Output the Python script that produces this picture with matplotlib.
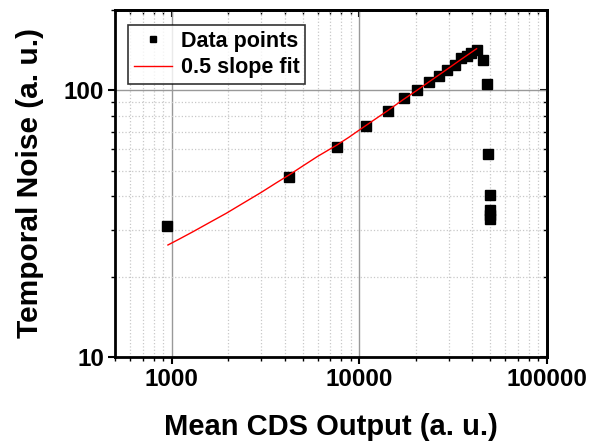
import matplotlib
matplotlib.use("Agg")
import matplotlib.pyplot as plt
from matplotlib.ticker import LogLocator, NullFormatter, FixedLocator, FixedFormatter

plt.rcParams['font.family'] = ['Liberation Sans', 'DejaVu Sans']
plt.rcParams['font.weight'] = 'bold'

# Data points (Mean CDS Output, Temporal Noise)
mean_output = [949, 4240, 7600, 10890, 14160, 17260, 20300, 23500, 26500, 29400,
               32200, 35000, 37300, 39500, 42200, 45600, 47700, 48500, 49500,
               49500, 49500, 49500]
temporal_noise = [31.1, 47.4, 61.3, 73.2, 83.4, 93.5, 100.0, 107.2, 113.2, 119.2,
                  124.2, 131.5, 134.5, 137.7, 141.0, 129.4, 105.6, 57.9, 40.4,
                  35.7, 34.2, 32.9]

# 0.5 slope fit curve
fit_x = [955, 1100, 1300, 1550, 1958, 2400, 3000, 3600, 4240, 5000, 6000, 7600,
         8800, 10000, 12000, 14160, 17000, 20300, 24000, 28250, 35000, 42200]
fit_y = [26.3, 27.7, 29.5, 31.6, 34.6, 37.7, 41.4, 44.9, 48.2, 52.0, 56.5, 62.3,
         66.6, 70.9, 77.4, 83.8, 91.8, 99.9, 108.5, 117.5, 130.6, 143.0]

x_ticks = [1000, 10000, 100000]
x_labels = ["1000", "10000", "100000"]
y_ticks = [10, 100]
y_labels = ["10", "100"]

fig = plt.figure(figsize=(5.97, 4.48), dpi=100)
ax = fig.add_axes([0.193, 0.203, 0.723, 0.775])

ax.set_xscale('log')
ax.set_yscale('log')
ax.set_xlim(500, 100000)
ax.set_ylim(10, 200)

# grids
ax.grid(True, which='major', color='#999999', linestyle='-', linewidth=1.0, zorder=0)
ax.grid(True, which='minor', color='#c8c8c8', linestyle=':', linewidth=0.9, zorder=0)
ax.set_axisbelow(True)

ax.plot(mean_output, temporal_noise, 's', color='black', markersize=6.5,
        linestyle='none', label='Data points', zorder=3)
ax.plot(fit_x, fit_y, '-', color='red', linewidth=1.0, label='0.5 slope fit', zorder=4)

ax.xaxis.set_major_locator(FixedLocator(x_ticks))
ax.xaxis.set_major_formatter(FixedFormatter(x_labels))
ax.yaxis.set_major_locator(FixedLocator(y_ticks))
ax.yaxis.set_major_formatter(FixedFormatter(y_labels))
ax.xaxis.set_minor_locator(LogLocator(base=10, subs=range(2, 10), numticks=20))
ax.yaxis.set_minor_locator(LogLocator(base=10, subs=range(2, 10), numticks=20))
ax.xaxis.set_minor_formatter(NullFormatter())
ax.yaxis.set_minor_formatter(NullFormatter())

ax.tick_params(axis='both', which='major', direction='out', length=5, width=1.5,
               labelsize=17.5, pad=3)
ax.tick_params(axis='both', which='minor', direction='out', length=3, width=1.0)
ax.tick_params(top=False, right=False, which='both')
for lbl in ax.get_xticklabels() + ax.get_yticklabels():
    lbl.set_fontweight('bold')

# inward ticks on top and right
secx = ax.secondary_xaxis('top')
secx.xaxis.set_major_locator(FixedLocator(x_ticks))
secx.xaxis.set_minor_locator(LogLocator(base=10, subs=range(2, 10), numticks=20))
secx.tick_params(which='major', direction='in', length=5, width=1.5, labeltop=False)
secx.tick_params(which='minor', direction='in', length=3, width=1.0, labeltop=False)
secy = ax.secondary_yaxis('right')
secy.yaxis.set_major_locator(FixedLocator(y_ticks))
secy.yaxis.set_minor_locator(LogLocator(base=10, subs=range(2, 10), numticks=20))
secy.tick_params(which='major', direction='in', length=5, width=1.5, labelright=False)
secy.tick_params(which='minor', direction='in', length=3, width=1.0, labelright=False)
for s in (secx, secy):
    for sp in s.spines.values():
        sp.set_linewidth(2.0)

for sp in ax.spines.values():
    sp.set_linewidth(2.0)
    sp.set_color('black')

ax.set_xlabel('Mean CDS Output (a. u.)', fontsize=21, fontweight='bold', labelpad=16)
ax.set_ylabel('Temporal Noise (a. u.)', fontsize=21.5, fontweight='bold', labelpad=14)

leg = ax.legend(loc='upper left', fontsize=15.5, frameon=True, fancybox=False,
                edgecolor='black', handlelength=1.8, borderpad=0.25,
                labelspacing=0.25, handletextpad=0.4, borderaxespad=0,
                markerscale=0.75, bbox_to_anchor=(0.03, 0.955))
leg.get_frame().set_linewidth(1.2)
for t in leg.get_texts():
    t.set_fontweight('bold')

fig.savefig('out.png', dpi=100)
